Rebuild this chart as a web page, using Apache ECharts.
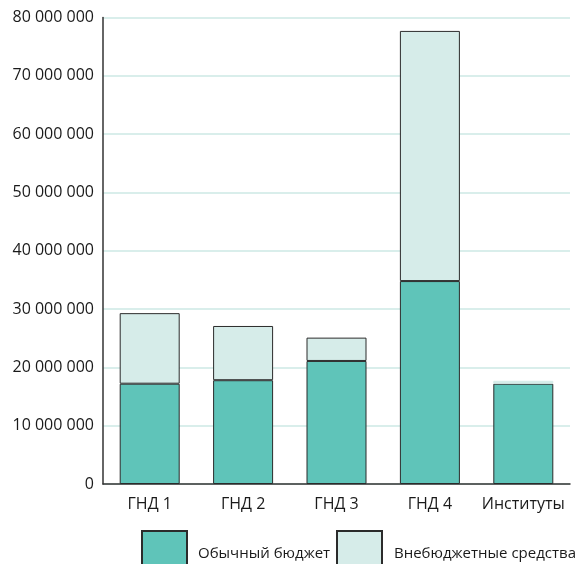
<!DOCTYPE html>
<html>
<head>
<meta charset="utf-8">
<script src="https://cdn.jsdelivr.net/npm/echarts@6/dist/echarts.min.js"></script>
<style>
html,body{margin:0;padding:0;background:#fff;}
#c{width:579px;height:564px;}
</style>
</head>
<body>
<div id="c"></div>
<script>
var categories = ['ГНД 1', 'ГНД 2', 'ГНД 3', 'ГНД 4', 'Институты'];
var regularBudget = [17200000, 17800000, 21100000, 34800000, 17200000];
var extraBudget = [12100000, 9300000, 4000000, 42900000, 500000];
var yTicks = [0, 10000000, 20000000, 30000000, 40000000, 50000000, 60000000, 70000000, 80000000];
var seriesNames = ['Обычный бюджет', 'Внебюджетные средства'];

function fmt(v) {
  return String(v).replace(/\B(?=(\d{3})+(?!\d))/g, ' ');
}

var chart = echarts.init(document.getElementById('c'), null, {renderer: 'canvas'});
var font = 'Open Sans';
chart.setOption({
  animation: false,
  backgroundColor: '#ffffff',
  grid: {left: 103, right: 9, top: 17.5, bottom: 80, containLabel: false},
  legend: [
    {
      data: [seriesNames[0]], left: 141, top: 530, padding: 0, itemWidth: 45, itemHeight: 45,
      icon: 'rect', selectedMode: false,
      textStyle: {fontFamily: font, fontSize: 15, color: '#1a1a1a', padding: [0, 0, 0, 6]}
    },
    {
      data: [seriesNames[1]], left: 336, top: 530, padding: 0, itemWidth: 45, itemHeight: 45,
      icon: 'rect', selectedMode: false,
      textStyle: {fontFamily: font, fontSize: 15, color: '#1a1a1a', padding: [0, 0, 0, 7]}
    }
  ],
  xAxis: {
    type: 'category',
    data: categories,
    axisLine: {lineStyle: {color: '#333', width: 1.5}},
    axisTick: {show: false},
    axisLabel: {fontFamily: font, fontSize: 16, color: '#1a1a1a', margin: 12, interval: 0}
  },
  yAxis: {
    type: 'value',
    min: yTicks[0],
    max: yTicks[yTicks.length - 1],
    interval: yTicks[1] - yTicks[0],
    axisLine: {show: true, lineStyle: {color: '#333', width: 1.5}},
    axisTick: {show: false},
    splitLine: {lineStyle: {color: '#cde8e4', width: 1.5}},
    axisLabel: {fontFamily: font, fontSize: 16, color: '#1a1a1a', margin: 9, formatter: fmt}
  },
  series: [
    {
      name: seriesNames[0], type: 'bar', stack: 'total', barWidth: 60,
      data: regularBudget,
      itemStyle: {color: '#5fc4b9', borderColor: '#2b2b2b', borderWidth: 1}
    },
    {
      name: seriesNames[1], type: 'bar', stack: 'total', barWidth: 60,
      data: extraBudget.map(function (v, i) {
        return i === 4 ? {value: v, itemStyle: {borderColor: '#d5ece8'}} : v;
      }),
      itemStyle: {color: '#d6ece9', borderColor: '#2b2b2b', borderWidth: 1}
    }
  ]
});
</script>
</body>
</html>
